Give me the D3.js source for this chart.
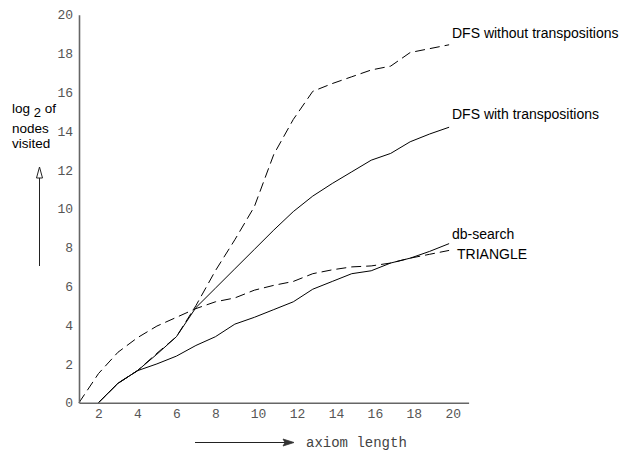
<!DOCTYPE html>
<html>
<head>
<meta charset="utf-8">
<script src="https://cdn.jsdelivr.net/npm/d3@7"></script>
<style>
  html, body { margin: 0; padding: 0; background: #fff; }
  svg { display: block; }
</style>
</head>
<body>
<svg id="chart" width="621" height="450"></svg>
<script>
// ---- data ----
const axiomLength = [1,2,3,4,5,6,7,8,9,10,11,12,13,14,15,16,17,18,19,20];
const xTicks = [2,4,6,8,10,12,14,16,18,20];
const yTicks = [0,2,4,6,8,10,12,14,16,18,20];
// log2 of nodes visited (null = not measured)
const dfsWithout = [null,0,1.0,1.65,2.55,3.4,5.0,6.8,8.4,10.1,12.8,14.6,16.05,16.45,16.8,17.15,17.35,18.05,18.25,18.45];
const dfsWith    = [null,0,1.0,1.65,2.5,3.4,4.9,5.9,6.9,7.9,8.9,9.85,10.65,11.3,11.9,12.5,12.85,13.45,13.85,14.2];
const dbSearch   = [null,0,1.0,1.65,2.0,2.4,2.95,3.4,4.05,4.4,4.8,5.2,5.85,6.25,6.65,6.8,7.2,7.45,7.8,8.2];
const triangle   = [0,1.5,2.6,3.35,3.95,4.4,4.85,5.2,5.4,5.8,6.05,6.25,6.65,6.85,7.0,7.05,7.2,7.45,7.65,7.85];
const seriesNames = ["DFS without transpositions","DFS with transpositions","db-search","TRIANGLE"];

// ---- chart ----
const svg = d3.select("#chart");
const x = d3.scaleLinear().domain([1, 21]).range([79, 468.6]);
const y = d3.scaleLinear().domain([0, 20]).range([402.7, 14.7]);

const series = [
  {name: seriesNames[0], values: dfsWithout, dash: "10,5", lx: 452, ly: 33},
  {name: seriesNames[1], values: dfsWith, dash: null, lx: 452, ly: 114},
  {name: seriesNames[2], values: dbSearch, dash: null, lx: 452, ly: 234},
  {name: seriesNames[3], values: triangle, dash: "10,5", lx: 457, ly: 254}
];

const line = d3.line()
  .defined(d => d[1] !== null)
  .x(d => x(d[0]))
  .y(d => y(d[1]));

series.forEach(s => {
  const pts = axiomLength.map((a, i) => [a, s.values[i]]);
  svg.append("path")
    .datum(pts)
    .attr("d", line)
    .attr("fill", "none")
    .attr("stroke", "#000")
    .attr("stroke-width", 1)
    .attr("stroke-dasharray", s.dash);
  svg.append("text")
    .attr("x", s.lx)
    .attr("y", s.ly)
    .attr("dy", "0.35em")
    .attr("font-family", "Liberation Sans, Arial, sans-serif")
    .attr("font-size", 14)
    .attr("fill", "#000")
    .text(s.name);
});

// axes
const xAxis = svg.append("g")
  .attr("transform", `translate(0,${y(0)})`)
  .call(d3.axisBottom(x).tickValues(xTicks).tickSize(0).tickPadding(6));
const yAxis = svg.append("g")
  .attr("transform", `translate(${x(1)},0)`)
  .call(d3.axisLeft(y).tickValues(yTicks).tickSize(0).tickPadding(6));

[xAxis, yAxis].forEach(g => {
  g.select(".domain").attr("stroke", "#666").attr("stroke-width", 1.6);
  g.selectAll("text")
    .attr("font-family", "Liberation Mono, Courier New, monospace")
    .attr("font-size", 13)
    .attr("fill", "#555");
});
xAxis.selectAll(".tick text").attr("dx", d => d >= 10 ? 3.7 : 0);

// x axis title with arrow
const mono = "Liberation Mono, Courier New, monospace";
svg.append("line").attr("x1", 195).attr("x2", 285).attr("y1", 442.5).attr("y2", 442.5)
  .attr("stroke", "#222").attr("stroke-width", 1);
svg.append("path").attr("d", "M283,439 L294,442.5 L283,446 L285,442.5 Z")
  .attr("fill", "#333").attr("stroke", "#333").attr("stroke-width", 0.8);
svg.append("text").attr("x", 306).attr("y", 442).attr("dy", "0.35em")
  .attr("font-family", mono).attr("font-size", 14).attr("fill", "#444")
  .text("axiom length");

// y axis title with arrow
const sans = "Liberation Sans, Arial, sans-serif";
const t1 = svg.append("text").attr("x", 12).attr("y", 113)
  .attr("font-family", sans).attr("font-size", 13.5).attr("fill", "#000");
t1.append("tspan").text("log ");
t1.append("tspan").attr("dy", 4).attr("font-size", 13).text("2");
t1.append("tspan").attr("dy", -4).text(" of");
svg.append("text").attr("x", 12).attr("y", 133)
  .attr("font-family", sans).attr("font-size", 13.5).attr("fill", "#000").text("nodes");
svg.append("text").attr("x", 12).attr("y", 148)
  .attr("font-family", sans).attr("font-size", 13.5).attr("fill", "#000").text("visited");
svg.append("line").attr("x1", 39.5).attr("x2", 39.5).attr("y1", 266).attr("y2", 176)
  .attr("stroke", "#222").attr("stroke-width", 1);
svg.append("path").attr("d", "M36.5,178 L39.5,167 L42.5,178 Z")
  .attr("fill", "#fff").attr("stroke", "#222").attr("stroke-width", 1);
</script>
</body>
</html>
